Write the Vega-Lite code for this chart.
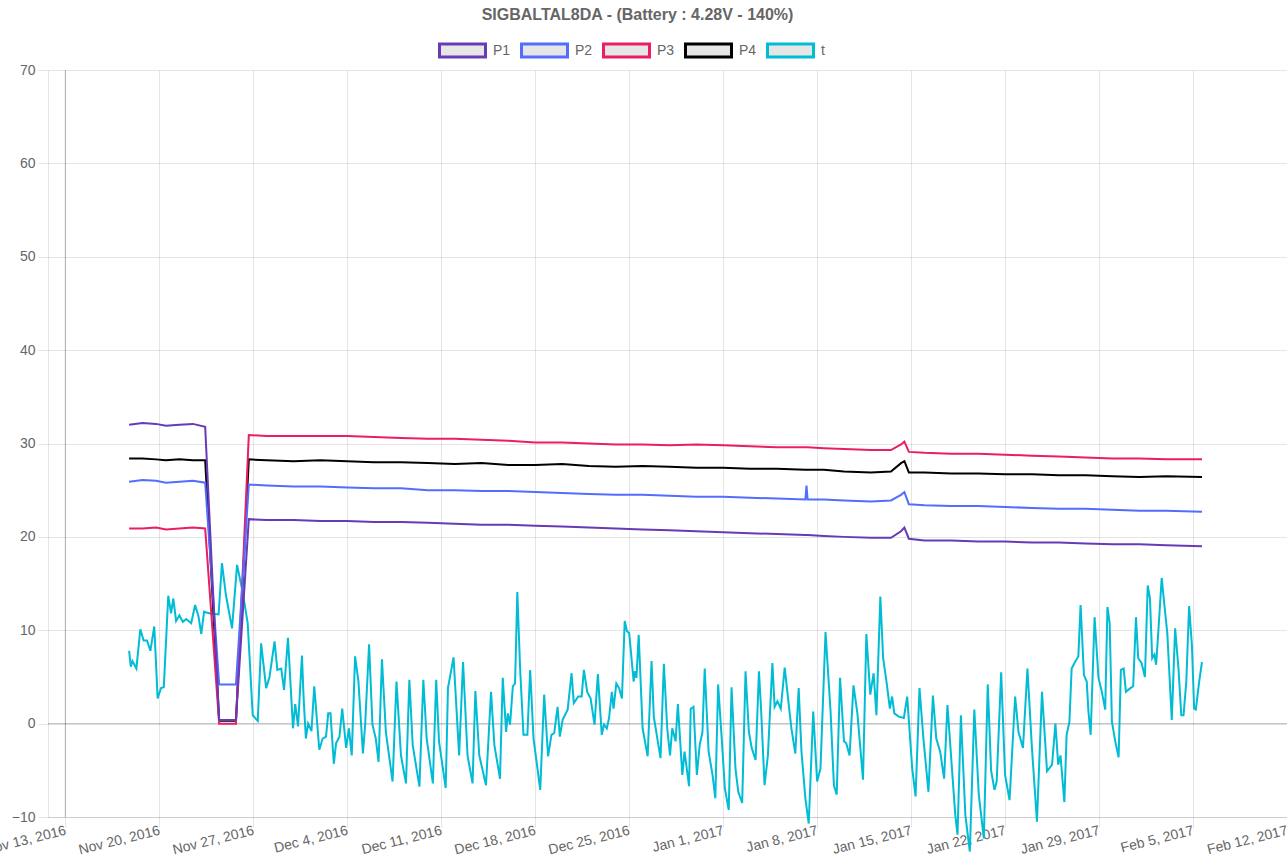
{
  "$schema": "https://vega.github.io/schema/vega-lite/v6.json",
  "width": 1239,
  "height": 747,
  "autosize": {"type": "none"},
  "padding": {"left": 48, "top": 70, "right": 0, "bottom": 39},
  "background": "white",
  "config": {
    "font": "Liberation Sans",
    "view": {"stroke": null}
  },
  "title": {
    "text": "SIGBALTAL8DA  -  (Battery : 4.28V - 140%)",
    "frame": "group",
    "anchor": "middle",
    "offset": 3,
    "dx": -30,
    "fontSize": 16,
    "fontWeight": "bold",
    "color": "#666666",
    "font": "Liberation Sans"
  },
  "datasets": {
    "p": [
      {"date": "2016-11-17T18:00", "P1": 32.0, "P2": 25.9, "P3": 20.9, "P4": 28.4},
      {"date": "2016-11-18T18:00", "P1": 32.2, "P2": 26.1, "P3": 20.9, "P4": 28.4},
      {"date": "2016-11-19T18:00", "P1": 32.1, "P2": 26.0, "P3": 21.0, "P4": 28.3},
      {"date": "2016-11-20T12:00", "P1": 31.9, "P2": 25.8, "P3": 20.8, "P4": 28.2},
      {"date": "2016-11-21T12:00", "P1": 32.0, "P2": 25.9, "P3": 20.9, "P4": 28.3},
      {"date": "2016-11-22T12:00", "P1": 32.1, "P2": 26.0, "P3": 21.0, "P4": 28.2},
      {"date": "2016-11-23T10:00", "P1": 31.8, "P2": 25.8, "P3": 20.9, "P4": 28.2},
      {"date": "2016-11-24T11:00", "P1": 0.4, "P2": 4.2, "P3": 0.0, "P4": 0.3},
      {"date": "2016-11-25T17:00", "P1": 0.4, "P2": 4.2, "P3": 0.0, "P4": 0.3},
      {"date": "2016-11-26T16:00", "P1": 21.9, "P2": 25.6, "P3": 30.9, "P4": 28.3},
      {"date": "2016-11-28T00:00", "P1": 21.8, "P2": 25.5, "P3": 30.8, "P4": 28.2},
      {"date": "2016-11-30T00:00", "P1": 21.8, "P2": 25.4, "P3": 30.8, "P4": 28.1},
      {"date": "2016-12-02T00:00", "P1": 21.7, "P2": 25.4, "P3": 30.8, "P4": 28.2},
      {"date": "2016-12-04T00:00", "P1": 21.7, "P2": 25.3, "P3": 30.8, "P4": 28.1},
      {"date": "2016-12-06T00:00", "P1": 21.6, "P2": 25.2, "P3": 30.7, "P4": 28.0},
      {"date": "2016-12-08T00:00", "P1": 21.6, "P2": 25.2, "P3": 30.6, "P4": 28.0},
      {"date": "2016-12-10T00:00", "P1": 21.5, "P2": 25.0, "P3": 30.5, "P4": 27.9},
      {"date": "2016-12-12T00:00", "P1": 21.4, "P2": 25.0, "P3": 30.5, "P4": 27.8},
      {"date": "2016-12-14T00:00", "P1": 21.3, "P2": 24.9, "P3": 30.4, "P4": 27.9},
      {"date": "2016-12-16T00:00", "P1": 21.3, "P2": 24.9, "P3": 30.3, "P4": 27.7},
      {"date": "2016-12-18T00:00", "P1": 21.2, "P2": 24.8, "P3": 30.1, "P4": 27.7},
      {"date": "2016-12-20T00:00", "P1": 21.1, "P2": 24.7, "P3": 30.1, "P4": 27.8},
      {"date": "2016-12-22T00:00", "P1": 21.0, "P2": 24.6, "P3": 30.0, "P4": 27.6},
      {"date": "2016-12-24T00:00", "P1": 20.9, "P2": 24.5, "P3": 29.9, "P4": 27.5},
      {"date": "2016-12-26T00:00", "P1": 20.8, "P2": 24.5, "P3": 29.9, "P4": 27.6},
      {"date": "2016-12-28T00:00", "P1": 20.7, "P2": 24.4, "P3": 29.8, "P4": 27.5},
      {"date": "2016-12-30T00:00", "P1": 20.6, "P2": 24.3, "P3": 29.9, "P4": 27.4},
      {"date": "2017-01-01T00:00", "P1": 20.5, "P2": 24.3, "P3": 29.8, "P4": 27.4},
      {"date": "2017-01-03T00:00", "P1": 20.4, "P2": 24.2, "P3": 29.7, "P4": 27.3},
      {"date": "2017-01-05T00:00", "P1": 20.3, "P2": 24.1, "P3": 29.6, "P4": 27.3},
      {"date": "2017-01-07T03:00", "P1": 20.2, "P2": 24.0, "P3": 29.6, "P4": 27.2},
      {"date": "2017-01-07T05:00", "P1": 20.2, "P2": 25.5, "P3": 29.6, "P4": 27.2},
      {"date": "2017-01-07T07:00", "P1": 20.2, "P2": 24.0, "P3": 29.6, "P4": 27.2},
      {"date": "2017-01-08T12:00", "P1": 20.1, "P2": 24.0, "P3": 29.5, "P4": 27.2},
      {"date": "2017-01-10T00:00", "P1": 20.0, "P2": 23.9, "P3": 29.4, "P4": 27.0},
      {"date": "2017-01-12T00:00", "P1": 19.9, "P2": 23.8, "P3": 29.3, "P4": 26.9},
      {"date": "2017-01-13T12:00", "P1": 19.9, "P2": 23.9, "P3": 29.3, "P4": 27.0},
      {"date": "2017-01-14T06:00", "P1": 20.6, "P2": 24.5, "P3": 29.9, "P4": 27.9},
      {"date": "2017-01-14T12:00", "P1": 21.0, "P2": 24.8, "P3": 30.2, "P4": 28.1},
      {"date": "2017-01-14T20:00", "P1": 19.8, "P2": 23.5, "P3": 29.1, "P4": 26.9},
      {"date": "2017-01-16T00:00", "P1": 19.6, "P2": 23.4, "P3": 29.0, "P4": 26.9},
      {"date": "2017-01-18T00:00", "P1": 19.6, "P2": 23.3, "P3": 28.9, "P4": 26.8},
      {"date": "2017-01-20T00:00", "P1": 19.5, "P2": 23.3, "P3": 28.9, "P4": 26.8},
      {"date": "2017-01-22T00:00", "P1": 19.5, "P2": 23.2, "P3": 28.8, "P4": 26.7},
      {"date": "2017-01-24T00:00", "P1": 19.4, "P2": 23.1, "P3": 28.7, "P4": 26.7},
      {"date": "2017-01-26T00:00", "P1": 19.4, "P2": 23.0, "P3": 28.6, "P4": 26.6},
      {"date": "2017-01-28T00:00", "P1": 19.3, "P2": 23.0, "P3": 28.5, "P4": 26.6},
      {"date": "2017-01-30T00:00", "P1": 19.2, "P2": 22.9, "P3": 28.4, "P4": 26.5},
      {"date": "2017-02-01T00:00", "P1": 19.2, "P2": 22.8, "P3": 28.4, "P4": 26.4},
      {"date": "2017-02-03T00:00", "P1": 19.1, "P2": 22.8, "P3": 28.3, "P4": 26.5},
      {"date": "2017-02-05T16:00", "P1": 19.0, "P2": 22.7, "P3": 28.3, "P4": 26.4}
    ],
    "t": [
      {"date": "2016-11-17T18:00", "t": 7.8},
      {"date": "2016-11-17T21:00", "t": 6.1},
      {"date": "2016-11-18T00:00", "t": 6.7},
      {"date": "2016-11-18T07:00", "t": 5.9},
      {"date": "2016-11-18T14:00", "t": 10.1},
      {"date": "2016-11-18T20:00", "t": 8.9},
      {"date": "2016-11-19T02:00", "t": 8.9},
      {"date": "2016-11-19T08:00", "t": 7.8},
      {"date": "2016-11-19T15:00", "t": 10.4},
      {"date": "2016-11-19T21:00", "t": 2.7},
      {"date": "2016-11-20T03:00", "t": 3.8},
      {"date": "2016-11-20T08:00", "t": 3.9},
      {"date": "2016-11-20T16:00", "t": 13.7},
      {"date": "2016-11-20T21:00", "t": 11.8},
      {"date": "2016-11-21T01:00", "t": 13.4},
      {"date": "2016-11-21T06:00", "t": 11.0},
      {"date": "2016-11-21T12:00", "t": 11.6},
      {"date": "2016-11-21T18:00", "t": 10.9},
      {"date": "2016-11-22T00:00", "t": 11.2},
      {"date": "2016-11-22T09:00", "t": 10.75},
      {"date": "2016-11-22T16:00", "t": 12.7},
      {"date": "2016-11-22T22:00", "t": 11.5},
      {"date": "2016-11-23T03:00", "t": 9.6},
      {"date": "2016-11-23T08:00", "t": 12.0},
      {"date": "2016-11-23T12:00", "t": 11.9},
      {"date": "2016-11-23T19:00", "t": 11.8},
      {"date": "2016-11-24T10:00", "t": 11.7},
      {"date": "2016-11-24T16:00", "t": 17.2},
      {"date": "2016-11-24T23:00", "t": 13.8},
      {"date": "2016-11-25T10:00", "t": 10.2},
      {"date": "2016-11-25T19:00", "t": 17.0},
      {"date": "2016-11-26T05:00", "t": 14.1},
      {"date": "2016-11-26T14:00", "t": 10.75},
      {"date": "2016-11-26T23:00", "t": 0.9},
      {"date": "2016-11-27T08:00", "t": 0.3},
      {"date": "2016-11-27T14:00", "t": 8.6},
      {"date": "2016-11-27T23:00", "t": 3.8},
      {"date": "2016-11-28T05:00", "t": 5.0},
      {"date": "2016-11-28T14:00", "t": 8.8},
      {"date": "2016-11-28T19:00", "t": 5.75},
      {"date": "2016-11-29T02:00", "t": 5.9},
      {"date": "2016-11-29T07:00", "t": 3.6},
      {"date": "2016-11-29T14:00", "t": 9.2},
      {"date": "2016-11-29T23:00", "t": -0.5},
      {"date": "2016-11-30T03:00", "t": 2.1},
      {"date": "2016-11-30T08:00", "t": -0.3},
      {"date": "2016-11-30T15:00", "t": 7.3},
      {"date": "2016-11-30T18:00", "t": 2.7},
      {"date": "2016-11-30T22:00", "t": -1.6},
      {"date": "2016-12-01T02:00", "t": 0.0},
      {"date": "2016-12-01T08:00", "t": -0.8},
      {"date": "2016-12-01T13:00", "t": 4.0},
      {"date": "2016-12-01T22:00", "t": -2.8},
      {"date": "2016-12-02T04:00", "t": -1.6},
      {"date": "2016-12-02T10:00", "t": -1.4},
      {"date": "2016-12-02T14:00", "t": 1.1},
      {"date": "2016-12-02T18:00", "t": 1.1},
      {"date": "2016-12-03T00:00", "t": -4.3},
      {"date": "2016-12-03T04:00", "t": -2.1},
      {"date": "2016-12-03T10:00", "t": -1.4},
      {"date": "2016-12-03T15:00", "t": 1.6},
      {"date": "2016-12-03T22:00", "t": -2.6},
      {"date": "2016-12-04T03:00", "t": -0.5},
      {"date": "2016-12-04T08:00", "t": -3.4},
      {"date": "2016-12-04T14:00", "t": 7.2},
      {"date": "2016-12-04T20:00", "t": 4.5},
      {"date": "2016-12-05T04:00", "t": -3.2},
      {"date": "2016-12-05T08:00", "t": -0.1},
      {"date": "2016-12-05T15:00", "t": 8.5},
      {"date": "2016-12-05T21:00", "t": -0.1},
      {"date": "2016-12-06T03:00", "t": -1.6},
      {"date": "2016-12-06T08:00", "t": -4.1},
      {"date": "2016-12-06T14:00", "t": 6.9},
      {"date": "2016-12-06T21:00", "t": -0.9},
      {"date": "2016-12-07T09:00", "t": -6.2},
      {"date": "2016-12-07T16:00", "t": 4.5},
      {"date": "2016-12-08T00:00", "t": -3.4},
      {"date": "2016-12-08T09:00", "t": -6.4},
      {"date": "2016-12-08T15:00", "t": 4.7},
      {"date": "2016-12-08T21:00", "t": -2.3},
      {"date": "2016-12-09T09:00", "t": -6.75},
      {"date": "2016-12-09T16:00", "t": 4.7},
      {"date": "2016-12-09T22:00", "t": -1.6},
      {"date": "2016-12-10T09:00", "t": -6.4},
      {"date": "2016-12-10T15:00", "t": 4.7},
      {"date": "2016-12-10T20:00", "t": -1.9},
      {"date": "2016-12-11T08:00", "t": -6.9},
      {"date": "2016-12-11T12:00", "t": 3.8},
      {"date": "2016-12-11T22:00", "t": 7.1},
      {"date": "2016-12-12T08:00", "t": -3.4},
      {"date": "2016-12-12T15:00", "t": 6.6},
      {"date": "2016-12-12T23:00", "t": -3.4},
      {"date": "2016-12-13T08:00", "t": -6.4},
      {"date": "2016-12-13T13:00", "t": 3.5},
      {"date": "2016-12-13T20:00", "t": -3.4},
      {"date": "2016-12-14T08:00", "t": -6.6},
      {"date": "2016-12-14T17:00", "t": 3.4},
      {"date": "2016-12-14T23:00", "t": -2.3},
      {"date": "2016-12-15T06:00", "t": -4.8},
      {"date": "2016-12-15T09:00", "t": -5.9},
      {"date": "2016-12-15T14:00", "t": 4.9},
      {"date": "2016-12-15T20:00", "t": -0.9},
      {"date": "2016-12-15T23:00", "t": 1.1},
      {"date": "2016-12-16T03:00", "t": -0.1},
      {"date": "2016-12-16T08:00", "t": 4.0},
      {"date": "2016-12-16T12:00", "t": 4.3},
      {"date": "2016-12-16T16:00", "t": 14.1},
      {"date": "2016-12-16T21:00", "t": 5.9},
      {"date": "2016-12-17T03:00", "t": -1.2},
      {"date": "2016-12-17T10:00", "t": -1.2},
      {"date": "2016-12-17T15:00", "t": 5.75},
      {"date": "2016-12-17T21:00", "t": -1.6},
      {"date": "2016-12-18T04:00", "t": -4.8},
      {"date": "2016-12-18T09:00", "t": -7.1},
      {"date": "2016-12-18T16:00", "t": 3.1},
      {"date": "2016-12-18T23:00", "t": -3.5},
      {"date": "2016-12-19T05:00", "t": -1.2},
      {"date": "2016-12-19T10:00", "t": -1.0},
      {"date": "2016-12-19T16:00", "t": 1.8},
      {"date": "2016-12-19T20:00", "t": -1.4},
      {"date": "2016-12-20T01:00", "t": 0.4},
      {"date": "2016-12-20T10:00", "t": 1.5},
      {"date": "2016-12-20T17:00", "t": 5.4},
      {"date": "2016-12-20T21:00", "t": 2.2},
      {"date": "2016-12-21T05:00", "t": 2.9},
      {"date": "2016-12-21T11:00", "t": 2.9},
      {"date": "2016-12-21T15:00", "t": 5.75},
      {"date": "2016-12-21T21:00", "t": 3.4},
      {"date": "2016-12-22T03:00", "t": 2.7},
      {"date": "2016-12-22T10:00", "t": -0.1},
      {"date": "2016-12-22T16:00", "t": 5.3},
      {"date": "2016-12-22T23:00", "t": -1.2},
      {"date": "2016-12-23T03:00", "t": -0.1},
      {"date": "2016-12-23T08:00", "t": -0.5},
      {"date": "2016-12-23T12:00", "t": 0.6},
      {"date": "2016-12-23T17:00", "t": 3.4},
      {"date": "2016-12-23T20:00", "t": 1.6},
      {"date": "2016-12-24T01:00", "t": 4.3},
      {"date": "2016-12-24T06:00", "t": 3.8},
      {"date": "2016-12-24T11:00", "t": 2.7},
      {"date": "2016-12-24T16:00", "t": 11.0},
      {"date": "2016-12-24T20:00", "t": 9.9},
      {"date": "2016-12-25T00:00", "t": 9.7},
      {"date": "2016-12-25T08:00", "t": 4.5},
      {"date": "2016-12-25T10:00", "t": 5.6},
      {"date": "2016-12-25T13:00", "t": 4.9},
      {"date": "2016-12-25T17:00", "t": 9.5},
      {"date": "2016-12-26T00:00", "t": -0.5},
      {"date": "2016-12-26T09:00", "t": -3.5},
      {"date": "2016-12-26T16:00", "t": 6.7},
      {"date": "2016-12-26T20:00", "t": 0.75},
      {"date": "2016-12-27T08:00", "t": -3.7},
      {"date": "2016-12-27T14:00", "t": 6.4},
      {"date": "2016-12-27T20:00", "t": -0.5},
      {"date": "2016-12-28T01:00", "t": -3.4},
      {"date": "2016-12-28T05:00", "t": -0.5},
      {"date": "2016-12-28T11:00", "t": -1.9},
      {"date": "2016-12-28T15:00", "t": 2.1},
      {"date": "2016-12-28T23:00", "t": -5.5},
      {"date": "2016-12-29T03:00", "t": -3.0},
      {"date": "2016-12-29T11:00", "t": -6.7},
      {"date": "2016-12-29T14:00", "t": 1.6},
      {"date": "2016-12-29T19:00", "t": 1.8},
      {"date": "2016-12-30T01:00", "t": -5.5},
      {"date": "2016-12-30T06:00", "t": -2.3},
      {"date": "2016-12-30T11:00", "t": -0.9},
      {"date": "2016-12-30T15:00", "t": 5.9},
      {"date": "2016-12-30T22:00", "t": -3.0},
      {"date": "2016-12-31T05:00", "t": -5.5},
      {"date": "2016-12-31T10:00", "t": -8.0},
      {"date": "2016-12-31T15:00", "t": 4.2},
      {"date": "2016-12-31T21:00", "t": -1.2},
      {"date": "2017-01-01T03:00", "t": -6.9},
      {"date": "2017-01-01T10:00", "t": -9.25},
      {"date": "2017-01-01T15:00", "t": 3.9},
      {"date": "2017-01-01T22:00", "t": -4.8},
      {"date": "2017-01-02T03:00", "t": -7.3},
      {"date": "2017-01-02T10:00", "t": -8.5},
      {"date": "2017-01-02T16:00", "t": 5.6},
      {"date": "2017-01-02T22:00", "t": -0.9},
      {"date": "2017-01-03T03:00", "t": -2.6},
      {"date": "2017-01-03T10:00", "t": -3.9},
      {"date": "2017-01-03T16:00", "t": 5.6},
      {"date": "2017-01-03T20:00", "t": 1.3},
      {"date": "2017-01-04T02:00", "t": -6.6},
      {"date": "2017-01-04T08:00", "t": -3.4},
      {"date": "2017-01-04T16:00", "t": 6.5},
      {"date": "2017-01-04T20:00", "t": 1.8},
      {"date": "2017-01-05T01:00", "t": 2.4},
      {"date": "2017-01-05T07:00", "t": 1.6},
      {"date": "2017-01-05T14:00", "t": 6.0},
      {"date": "2017-01-05T18:00", "t": 3.8},
      {"date": "2017-01-06T02:00", "t": -0.5},
      {"date": "2017-01-06T09:00", "t": -3.2},
      {"date": "2017-01-06T15:00", "t": 3.8},
      {"date": "2017-01-06T20:00", "t": -3.0},
      {"date": "2017-01-07T03:00", "t": -8.0},
      {"date": "2017-01-07T09:00", "t": -10.7},
      {"date": "2017-01-07T17:00", "t": 1.3},
      {"date": "2017-01-08T00:00", "t": -6.2},
      {"date": "2017-01-08T06:00", "t": -4.8},
      {"date": "2017-01-08T15:00", "t": 9.8},
      {"date": "2017-01-09T00:00", "t": 1.3},
      {"date": "2017-01-09T06:00", "t": -6.6},
      {"date": "2017-01-09T11:00", "t": -7.6},
      {"date": "2017-01-09T17:00", "t": 4.9},
      {"date": "2017-01-10T00:00", "t": -1.9},
      {"date": "2017-01-10T04:00", "t": -2.1},
      {"date": "2017-01-10T10:00", "t": -3.4},
      {"date": "2017-01-10T17:00", "t": 4.1},
      {"date": "2017-01-11T00:00", "t": 1.1},
      {"date": "2017-01-11T10:00", "t": -6.0},
      {"date": "2017-01-11T16:00", "t": 9.6},
      {"date": "2017-01-11T23:00", "t": 3.1},
      {"date": "2017-01-12T05:00", "t": 5.4},
      {"date": "2017-01-12T10:00", "t": 0.9},
      {"date": "2017-01-12T17:00", "t": 13.6},
      {"date": "2017-01-12T22:00", "t": 7.0},
      {"date": "2017-01-13T04:00", "t": 4.5},
      {"date": "2017-01-13T10:00", "t": 1.6},
      {"date": "2017-01-13T14:00", "t": 2.9},
      {"date": "2017-01-13T18:00", "t": 1.1},
      {"date": "2017-01-14T02:00", "t": 0.75},
      {"date": "2017-01-14T11:00", "t": 0.6},
      {"date": "2017-01-14T17:00", "t": 2.9},
      {"date": "2017-01-15T02:00", "t": -4.8},
      {"date": "2017-01-15T08:00", "t": -7.8},
      {"date": "2017-01-15T15:00", "t": 3.8},
      {"date": "2017-01-15T22:00", "t": -1.6},
      {"date": "2017-01-16T07:00", "t": -7.3},
      {"date": "2017-01-16T15:00", "t": 3.0},
      {"date": "2017-01-16T21:00", "t": -1.6},
      {"date": "2017-01-17T04:00", "t": -3.0},
      {"date": "2017-01-17T11:00", "t": -5.9},
      {"date": "2017-01-17T17:00", "t": 2.0},
      {"date": "2017-01-18T01:00", "t": -4.8},
      {"date": "2017-01-18T07:00", "t": -9.8},
      {"date": "2017-01-18T11:00", "t": -11.9},
      {"date": "2017-01-18T17:00", "t": 0.9},
      {"date": "2017-01-19T01:00", "t": -9.8},
      {"date": "2017-01-19T09:00", "t": -13.7},
      {"date": "2017-01-19T17:00", "t": 1.5},
      {"date": "2017-01-20T01:00", "t": -7.6},
      {"date": "2017-01-20T10:00", "t": -12.3},
      {"date": "2017-01-20T17:00", "t": 4.2},
      {"date": "2017-01-20T23:00", "t": -5.0},
      {"date": "2017-01-21T05:00", "t": -7.1},
      {"date": "2017-01-21T09:00", "t": -6.2},
      {"date": "2017-01-21T17:00", "t": 5.5},
      {"date": "2017-01-22T00:00", "t": -5.5},
      {"date": "2017-01-22T08:00", "t": -8.2},
      {"date": "2017-01-22T18:00", "t": 2.9},
      {"date": "2017-01-23T00:00", "t": -0.9},
      {"date": "2017-01-23T08:00", "t": -2.6},
      {"date": "2017-01-23T16:00", "t": 5.9},
      {"date": "2017-01-24T00:00", "t": -2.6},
      {"date": "2017-01-24T09:00", "t": -10.5},
      {"date": "2017-01-24T18:00", "t": 3.4},
      {"date": "2017-01-25T03:00", "t": -5.1},
      {"date": "2017-01-25T12:00", "t": -4.4},
      {"date": "2017-01-25T18:00", "t": 0.0},
      {"date": "2017-01-25T23:00", "t": -4.4},
      {"date": "2017-01-26T03:00", "t": -3.4},
      {"date": "2017-01-26T10:00", "t": -8.4},
      {"date": "2017-01-26T14:00", "t": -1.2},
      {"date": "2017-01-26T19:00", "t": 0.2},
      {"date": "2017-01-26T23:00", "t": 5.9},
      {"date": "2017-01-27T05:00", "t": 6.6},
      {"date": "2017-01-27T11:00", "t": 7.2},
      {"date": "2017-01-27T15:00", "t": 12.7},
      {"date": "2017-01-27T21:00", "t": 5.2},
      {"date": "2017-01-28T02:00", "t": 4.5},
      {"date": "2017-01-28T05:00", "t": 1.3},
      {"date": "2017-01-28T09:00", "t": -1.2},
      {"date": "2017-01-28T16:00", "t": 11.4},
      {"date": "2017-01-28T23:00", "t": 4.9},
      {"date": "2017-01-29T05:00", "t": 3.4},
      {"date": "2017-01-29T11:00", "t": 1.5},
      {"date": "2017-01-29T15:00", "t": 12.5},
      {"date": "2017-01-29T19:00", "t": 10.75},
      {"date": "2017-01-29T23:00", "t": 0.2},
      {"date": "2017-01-30T05:00", "t": -1.9},
      {"date": "2017-01-30T11:00", "t": -3.6},
      {"date": "2017-01-30T15:00", "t": 5.75},
      {"date": "2017-01-30T20:00", "t": 5.9},
      {"date": "2017-01-31T00:00", "t": 3.4},
      {"date": "2017-01-31T08:00", "t": 3.8},
      {"date": "2017-01-31T13:00", "t": 4.0},
      {"date": "2017-01-31T18:00", "t": 11.4},
      {"date": "2017-01-31T22:00", "t": 7.0},
      {"date": "2017-02-01T04:00", "t": 6.5},
      {"date": "2017-02-01T10:00", "t": 5.0},
      {"date": "2017-02-01T15:00", "t": 14.8},
      {"date": "2017-02-01T19:00", "t": 13.4},
      {"date": "2017-02-01T23:00", "t": 7.0},
      {"date": "2017-02-02T03:00", "t": 7.4},
      {"date": "2017-02-02T06:00", "t": 6.3},
      {"date": "2017-02-02T10:00", "t": 9.9},
      {"date": "2017-02-02T16:00", "t": 15.6},
      {"date": "2017-02-02T22:00", "t": 12.0},
      {"date": "2017-02-03T02:00", "t": 9.7},
      {"date": "2017-02-03T10:00", "t": 0.4},
      {"date": "2017-02-03T16:00", "t": 10.2},
      {"date": "2017-02-03T22:00", "t": 5.9},
      {"date": "2017-02-04T03:00", "t": 0.9},
      {"date": "2017-02-04T07:00", "t": 0.9},
      {"date": "2017-02-04T12:00", "t": 4.5},
      {"date": "2017-02-04T17:00", "t": 12.6},
      {"date": "2017-02-04T22:00", "t": 8.4},
      {"date": "2017-02-05T02:00", "t": 1.6},
      {"date": "2017-02-05T05:00", "t": 1.5},
      {"date": "2017-02-05T11:00", "t": 4.5},
      {"date": "2017-02-05T16:00", "t": 6.6}
    ]
  },
  "layer": [
    {
      "data": {"values": [{}]},
      "mark": {"type": "rule", "color": "rgba(0,0,0,0.25)", "strokeWidth": 1},
      "encoding": {
        "y": {"datum": 0, "type": "quantitative", "scale": {"domain": [-10, 70], "nice": false, "zero": false}}
      }
    },
    {
      "data": {"values": [{}]},
      "mark": {"type": "rule", "color": "rgba(0,0,0,0.25)", "strokeWidth": 1},
      "encoding": {
        "x": {"datum": {"year": 2016, "month": 11, "date": 13}, "type": "temporal",
              "scale": {"domain": [{"year": 2016, "month": 11, "date": 11, "hours": 17}, {"year": 2017, "month": 2, "date": 12}], "nice": false}}
      }
    },
    {
      "data": {"name": "t"},
      "transform": [{"fold": ["t"], "as": ["series", "value"]}],
      "mark": {"type": "line", "strokeWidth": 2, "interpolate": "linear"},
      "encoding": {
        "x": {
          "field": "date", "type": "temporal",
          "scale": {"domain": [{"year": 2016, "month": 11, "date": 11, "hours": 17}, {"year": 2017, "month": 2, "date": 12}], "nice": false},
          "axis": {
            "title": null,
            "values": [
              {"year": 2016, "month": 11, "date": 13}, {"year": 2016, "month": 11, "date": 20}, {"year": 2016, "month": 11, "date": 27},
              {"year": 2016, "month": 12, "date": 4}, {"year": 2016, "month": 12, "date": 11}, {"year": 2016, "month": 12, "date": 18},
              {"year": 2016, "month": 12, "date": 25}, {"year": 2017, "month": 1, "date": 1}, {"year": 2017, "month": 1, "date": 8},
              {"year": 2017, "month": 1, "date": 15}, {"year": 2017, "month": 1, "date": 22}, {"year": 2017, "month": 1, "date": 29},
              {"year": 2017, "month": 2, "date": 5}, {"year": 2017, "month": 2, "date": 12}
            ],
            "format": "%b %-d, %Y",
            "labelAngle": -14,
            "labelAlign": "right",
            "labelBaseline": "middle",
            "labelPadding": 3,
            "labelOverlap": false,
            "labelBound": false,
            "labelFlush": false,
            "labelColor": "#666666",
            "labelFontSize": 14,
            "labelFont": "Liberation Sans",
            "tickSize": 10,
            "tickColor": "rgba(0,0,0,0.1)",
            "grid": true,
            "gridColor": "rgba(0,0,0,0.1)",
            "domainColor": "rgba(0,0,0,0.1)"
          }
        },
        "y": {
          "field": "value", "type": "quantitative",
          "scale": {"domain": [-10, 70], "nice": false, "zero": false},
          "axis": {
            "title": null,
            "values": [-10, 0, 10, 20, 30, 40, 50, 60, 70],
            "labelColor": "#666666",
            "labelFontSize": 14,
            "labelFont": "Liberation Sans",
            "labelPadding": 3,
            "tickSize": 10,
            "tickColor": "rgba(0,0,0,0.1)",
            "grid": true,
            "gridColor": "rgba(0,0,0,0.1)",
            "domainColor": "rgba(0,0,0,0.1)"
          }
        },
        "color": {
          "field": "series", "type": "nominal",
          "scale": {"domain": ["P1", "P2", "P3", "P4", "t"], "range": ["#673ab7", "#536dfe", "#e91e63", "#000000", "#00bcd4"]},
          "legend": {
            "orient": "none", "legendX": 390, "legendY": -44, "direction": "horizontal", "title": null,
            "symbolType": "M-1,-0.28L1,-0.28L1,0.28L-1,0.28Z", "symbolSize": 2116, "symbolStrokeWidth": 3,
            "labelFontSize": 14, "labelColor": "#666666", "labelFont": "Liberation Sans", "labelOffset": 6, "columnPadding": 4,
            "encode": {"symbols": {"update": {"fill": {"value": "#e6e6e6"}, "strokeWidth": {"value": 3}}}}
          }
        }
      }
    },
    {
      "data": {"name": "p"},
      "transform": [{"fold": ["P4", "P3", "P2", "P1"], "as": ["series", "value"]}],
      "mark": {"type": "line", "strokeWidth": 2, "interpolate": "linear"},
      "encoding": {
        "x": {"field": "date", "type": "temporal"},
        "y": {"field": "value", "type": "quantitative"},
        "color": {"field": "series", "type": "nominal"}
      }
    }
  ]
}
